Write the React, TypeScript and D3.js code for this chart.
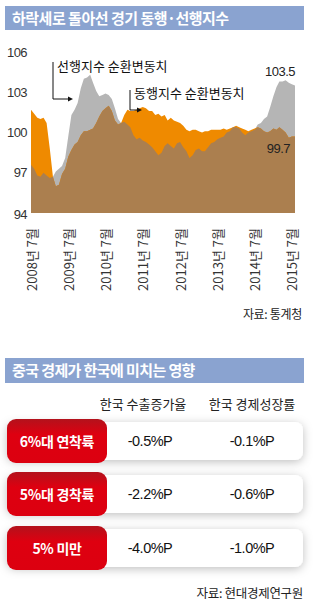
import React from "react";
import * as d3 from "d3";

const startMonth = new Date(2008, 6, 1);
const endMonth = new Date(2015, 7, 1);
const months: Date[] = d3.timeMonth.range(startMonth, d3.timeMonth.offset(endMonth, 1));

// 선행지수 순환변동치 (leading)
const leading = [
  97.6, 97.3, 96.8, 96.7, 97.0, 96.8, 96.6, 96.7, 97.1, 97.3,
  97.5, 98.1, 99.7, 101.3, 101.7, 102.2, 103.3, 104.0, 104.1, 104.3,
  103.7, 103.1, 102.7, 102.8, 102.9, 102.8, 102.5, 101.8, 101.0, 100.7,
  100.8, 100.6, 100.4, 99.8, 99.5, 99.6, 99.4, 99.3, 99.1, 98.9,
  98.6, 98.3, 98.5, 99.0, 99.2, 99.0, 98.8, 99.2, 99.3, 98.9,
  98.6, 98.1, 98.3, 98.7, 98.8, 98.6, 98.6, 98.9, 99.2, 99.3,
  99.5, 99.6, 99.7, 100.0, 100.1, 100.4, 100.4, 100.3, 100.0, 99.8,
  100.0, 100.1, 100.2, 100.6, 100.7, 101.0, 101.2, 101.9, 102.7, 103.4,
  103.8, 103.8, 103.9, 103.7, 103.6, 103.5,
];
// 동행지수 순환변동치 (coincident)
const coincident = [
  101.7, 101.4, 101.1, 101.0, 101.1, 100.7, 98.8, 96.7, 96.0, 96.1,
  96.9, 97.3, 98.2, 98.7, 99.1, 99.3, 99.8, 100.1, 100.1, 100.2,
  100.3, 100.7, 101.2, 101.6, 101.8, 102.0, 101.6, 100.9, 100.6, 100.7,
  101.3, 101.7, 101.6, 101.6, 101.7, 101.8, 101.9, 101.8, 101.6, 101.6,
  101.3, 101.4, 101.2, 101.3, 100.9, 101.1, 100.9, 100.8, 100.7, 100.5,
  100.2, 100.1, 100.2, 100.2, 100.1, 100.0, 100.1, 100.1, 100.2, 100.2,
  100.2, 100.2, 100.3, 100.2, 100.3, 100.4, 100.5, 100.4, 100.3, 100.2,
  100.1, 100.2, 100.3, 100.4, 100.3, 100.1, 100.0, 100.1, 100.3, 100.2,
  100.4, 100.2, 100.0, 99.6, 99.7, 99.7,
];

const yTicks = [94, 97, 100, 103, 106];
const xTickYears = [2008, 2009, 2010, 2011, 2012, 2013, 2014, 2015];

const title1 = "하락세로 돌아선 경기 동행·선행지수";
const title2 = "중국 경제가 한국에 미치는 영향";
const source1 = "자료: 통계청";
const source2 = "자료: 현대경제연구원";
const leadLabel = "선행지수 순환변동치";
const coinLabel = "동행지수 순환변동치";

const tableColumns = ["한국 수출증가율", "한국 경제성장률"];
const scenarios = ["6%대 연착륙", "5%대 경착륙", "5% 미만"];
const exportGrowth = ["-0.5%P", "-2.2%P", "-4.0%P"];
const gdpGrowth = ["-0.1%P", "-0.6%P", "-1.0%P"];

const KR = "'Noto Sans CJK KR', 'Noto Sans', sans-serif";
const NUM = "'Liberation Sans', Arial, sans-serif";

export default function App() {
  const x = d3.scaleTime().domain([startMonth, endMonth]).range([31, 295]);
  const y = d3.scaleLinear().domain([94, 106]).range([213, 52]);

  const rows = months.map((d, i) => ({ d, L: leading[i], C: coincident[i] }));

  const areaL = d3.area<any>().x((r) => x(r.d)).y0(y(94)).y1((r) => y(r.L))(rows) || "";
  const areaC = d3.area<any>().x((r) => x(r.d)).y0(y(94)).y1((r) => y(r.C))(rows) || "";
  const areaMin = d3
    .area<any>()
    .x((r) => x(r.d))
    .y0(y(94))
    .y1((r) => y(Math.min(r.L, r.C)))(rows) || "";

  const last = rows[rows.length - 1];

  const rowTop = [419, 472, 526];
  const rowH = 44;

  return (
    <svg
      width={320}
      height={604}
      style={{ position: "absolute", left: 0, top: 0, background: "#fff" }}
    >
      <defs>
        <linearGradient id="redGrad" x1="0" y1="0" x2="0" y2="1">
          <stop offset="0%" stopColor="#b3121c" />
          <stop offset="35%" stopColor="#de0010" />
          <stop offset="100%" stopColor="#dc0010" />
        </linearGradient>
        <filter id="shadow" x="-10%" y="-50%" width="120%" height="200%">
          <feDropShadow dx="0" dy="2" stdDeviation="5" floodColor="#000" floodOpacity="0.25" />
        </filter>
      </defs>

      {/* Title 1 */}
      <rect x={5} y={6} width={299} height={24} fill="#8aa3d0" />
      <text x={12} y={24} fill="#fff" fontFamily={KR} fontWeight={700} fontSize={15} letterSpacing={-0.5}>
        {title1}
      </text>

      {/* Chart areas */}
      <path d={areaL} fill="#b5b5b5" />
      <path d={areaC} fill="#ef8a00" />
      <path d={areaMin} fill="#ab7f4f" />

      {/* Y axis labels */}
      {yTicks.map((t) => (
        <text
          key={t}
          x={27}
          y={y(t) + (t === 94 ? 1 : 0)}
          textAnchor="end"
          dominantBaseline="central"
          fontFamily={NUM}
          fontSize={13}
          letterSpacing={-0.6}
          fill="#333"
        >
          {t}
        </text>
      ))}

      {/* X axis labels */}
      {xTickYears.map((yr) => {
        const cx = x(new Date(yr, 6, 1));
        return (
          <text
            key={yr}
            transform={`translate(${cx},228) rotate(-90)`}
            textAnchor="end"
            dominantBaseline="central"
            fontFamily={KR}
            fontSize={13}
            fill="#333"
          >
            {`${yr}년 7월`}
          </text>
        );
      })}

      {/* Annotations */}
      <path d="M53,62 V99 H69" fill="none" stroke="#111" strokeWidth={1} />
      <path d="M73,99 L68,96.5 L68,101.5 Z" fill="#111" />
      <text x={57} y={65} dominantBaseline="central" fontFamily={KR} fontSize={13} fill="#111">
        {leadLabel}
      </text>

      <path d="M130,90 V110 H138" fill="none" stroke="#111" strokeWidth={1} />
      <path d="M142,110 L137,107.5 L137,112.5 Z" fill="#111" />
      <text x={134} y={92} dominantBaseline="central" fontFamily={KR} fontSize={13} fill="#111">
        {coinLabel}
      </text>

      <text x={295} y={y(last.L) - 14} textAnchor="end" dominantBaseline="central" fontFamily={NUM} fontSize={13} letterSpacing={-0.5} fill="#222">
        {last.L.toFixed(1)}
      </text>
      <text x={290} y={y(last.C) + 12} textAnchor="end" dominantBaseline="central" fontFamily={NUM} fontSize={13} letterSpacing={-0.5} fill="#222">
        {last.C.toFixed(1)}
      </text>

      <text x={302} y={313} textAnchor="end" dominantBaseline="central" fontFamily={KR} fontSize={12} letterSpacing={-0.3} fill="#222">
        {source1}
      </text>

      {/* Title 2 */}
      <rect x={5} y={358} width={299} height={25} fill="#8aa3d0" />
      <text x={12} y={376} fill="#fff" fontFamily={KR} fontWeight={700} fontSize={15} letterSpacing={-0.6}>
        {title2}
      </text>

      {/* Table header */}
      <text x={143} y={403} textAnchor="middle" dominantBaseline="central" fontFamily={KR} fontSize={13} fill="#222">
        {tableColumns[0]}
      </text>
      <text x={252} y={403} textAnchor="middle" dominantBaseline="central" fontFamily={KR} fontSize={13} fill="#222">
        {tableColumns[1]}
      </text>

      {/* Rows */}
      {scenarios.map((s, i) => {
        const top = rowTop[i];
        return (
          <g key={s}>
            <rect x={7} y={top + 3} width={296} height={rowH - 6} rx={8} fill="#fff" filter="url(#shadow)" />
            <rect x={7} y={top} width={100} height={rowH} rx={9} fill="url(#redGrad)" />
            <text x={57} y={top + rowH / 2} textAnchor="middle" dominantBaseline="central" fontFamily={KR} fontWeight={700} fontSize={14} letterSpacing={-0.3} fill="#fff">
              {s}
            </text>
            <text x={150} y={top + rowH / 2} textAnchor="middle" dominantBaseline="central" fontFamily={NUM} fontSize={14.5} letterSpacing={-0.5} fill="#111">
              {exportGrowth[i]}
            </text>
            <text x={252} y={top + rowH / 2} textAnchor="middle" dominantBaseline="central" fontFamily={NUM} fontSize={14.5} letterSpacing={-0.5} fill="#111">
              {gdpGrowth[i]}
            </text>
          </g>
        );
      })}

      <text x={303} y={592} textAnchor="end" dominantBaseline="central" fontFamily={KR} fontSize={12.5} letterSpacing={-0.3} fill="#222">
        {source2}
      </text>
    </svg>
  );
}
